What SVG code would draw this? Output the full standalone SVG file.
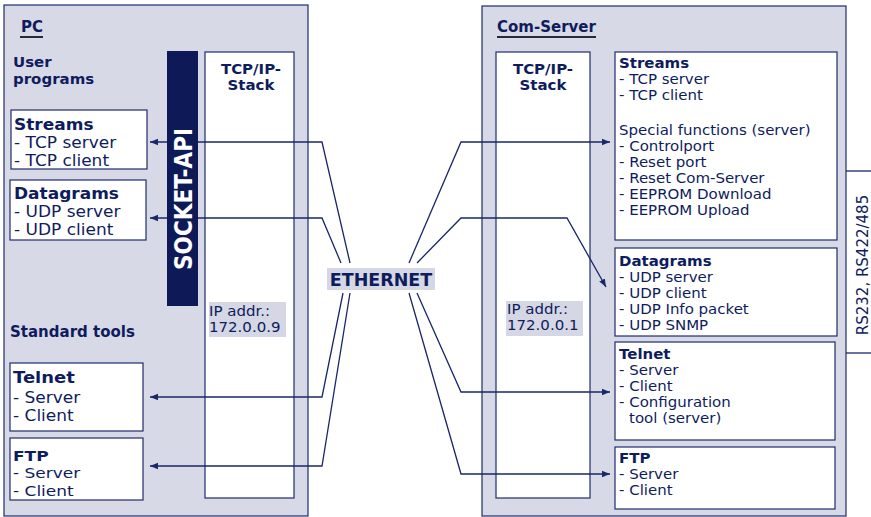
<svg xmlns="http://www.w3.org/2000/svg" width="871" height="517" viewBox="0 0 871 517">
<defs>
<style>
text{font-family:"DejaVu Sans","Liberation Sans",sans-serif;fill:#0e1c5e}
.b{font-weight:bold}
.panel{fill:#d8d9e6;stroke:#1e2b6e;stroke-width:1.2}
.box{fill:#ffffff;stroke:#1e2b6e;stroke-width:1.2}
.ip{fill:#d5d7e4}
.lft{font-size:15.3px}
.rgt{font-size:13.6px}
.conn{fill:none;stroke:#1a2768;stroke-width:1.3}
.ul{stroke:#2a2a33;stroke-width:2}
</style>
<marker id="ah" viewBox="0 0 10 10" refX="10" refY="5" markerWidth="8" markerHeight="8" markerUnits="userSpaceOnUse" orient="auto">
<path d="M0,1 L10,5 L0,9 z" fill="#1a2768"/>
</marker>
</defs>
<rect width="871" height="517" fill="#ffffff"/>

<g id="pc">
<rect class="panel" x="4" y="5" width="304" height="511"/>
<text class="b" x="21" y="32" font-size="15">PC</text>
<line class="ul" x1="20" y1="37" x2="43" y2="37"/>
<text class="b" font-size="14" transform="translate(13,0) scale(1.071,1)"><tspan x="0" y="67.5">User</tspan><tspan x="0" y="84">programs</tspan></text>
<text class="b" x="10" y="337" font-size="15">Standard tools</text>
</g>

<g id="pc-stack">
<rect class="box" x="205" y="52" width="89" height="446"/>
<text class="b" font-size="13.6" text-anchor="middle" transform="translate(251,0) scale(1.103,1)"><tspan x="0" y="74.5">TCP/IP-</tspan><tspan x="0" y="90.5">Stack</tspan></text>
<rect class="ip" x="209" y="302" width="77" height="35"/>
<text font-size="13.6" transform="translate(209,0) scale(1.103,1)"><tspan x="0" y="316.5">IP addr.:</tspan><tspan x="0" y="332.5">172.0.0.9</tspan></text>
</g>

<g id="pc-streams">
<rect class="box" x="11" y="110" width="136" height="59"/>
<text class="lft" transform="translate(14,0) scale(1.111,1)"><tspan class="b" x="0" y="130">Streams</tspan><tspan x="0" y="148">- TCP server</tspan><tspan x="0" y="166">- TCP client</tspan></text>
</g>

<g id="pc-datagrams">
<rect class="box" x="10" y="180" width="136" height="60"/>
<text class="lft" transform="translate(14,0) scale(1.111,1)"><tspan class="b" x="0" y="199">Datagrams</tspan><tspan x="0" y="217">- UDP server</tspan><tspan x="0" y="235">- UDP client</tspan></text>
</g>

<g id="pc-telnet">
<rect class="box" x="10" y="363" width="133" height="68"/>
<text class="lft" transform="translate(13,0) scale(1.111,1)"><tspan class="b" x="0" y="383" font-size="16.2">Telnet</tspan><tspan x="0" y="403">- Server</tspan><tspan x="0" y="421">- Client</tspan></text>
</g>

<g id="pc-ftp">
<rect class="box" x="10" y="438" width="133" height="62"/>
<text font-size="14.9" transform="translate(13,0) scale(1.141,1)"><tspan class="b" x="0" y="461">FTP</tspan><tspan x="0" y="478.5">- Server</tspan><tspan x="0" y="496">- Client</tspan></text>
</g>

<g id="comserver">
<rect class="panel" x="482" y="6" width="364" height="510"/>
<text class="b" x="497" y="32" font-size="15">Com-Server</text>
<line class="ul" x1="497" y1="37" x2="596" y2="37"/>
</g>

<g id="cs-stack">
<rect class="box" x="496" y="52" width="94" height="446"/>
<text class="b" font-size="13.6" text-anchor="middle" transform="translate(543,0) scale(1.103,1)"><tspan x="0" y="74.5">TCP/IP-</tspan><tspan x="0" y="90.5">Stack</tspan></text>
<rect class="ip" x="506" y="301" width="77" height="35"/>
<text font-size="13.6" transform="translate(507,0) scale(1.103,1)"><tspan x="0" y="314">IP addr.:</tspan><tspan x="0" y="330">172.0.0.1</tspan></text>
</g>

<g id="cs-streams">
<rect class="box" x="615" y="52" width="222" height="188"/>
<text class="rgt" transform="translate(619,0) scale(1.103,1)"><tspan class="b" x="0" y="68">Streams</tspan><tspan x="0" y="84">- TCP server</tspan><tspan x="0" y="100">- TCP client</tspan><tspan x="0" y="135">Special functions (server)</tspan><tspan x="0" y="151">- Controlport</tspan><tspan x="0" y="167">- Reset port</tspan><tspan x="0" y="183">- Reset Com-Server</tspan><tspan x="0" y="199">- EEPROM Download</tspan><tspan x="0" y="215">- EEPROM Upload</tspan></text>
</g>

<g id="cs-datagrams">
<rect class="box" x="615" y="248" width="222" height="88"/>
<text class="rgt" transform="translate(619,0) scale(1.103,1)"><tspan class="b" x="0" y="266">Datagrams</tspan><tspan x="0" y="282">- UDP server</tspan><tspan x="0" y="298">- UDP client</tspan><tspan x="0" y="314">- UDP Info packet</tspan><tspan x="0" y="330">- UDP SNMP</tspan></text>
</g>

<g id="cs-telnet">
<rect class="box" x="615" y="342" width="220" height="98"/>
<text class="rgt" transform="translate(619,0) scale(1.103,1)"><tspan class="b" x="0" y="359">Telnet</tspan><tspan x="0" y="375">- Server</tspan><tspan x="0" y="391">- Client</tspan><tspan x="0" y="407">- Configuration</tspan><tspan x="9.1" y="423">tool (server)</tspan></text>
</g>

<g id="cs-ftp">
<rect class="box" x="615" y="447" width="220" height="62"/>
<text class="rgt" transform="translate(619,0) scale(1.103,1)"><tspan class="b" x="0" y="463">FTP</tspan><tspan x="0" y="479">- Server</tspan><tspan x="0" y="495">- Client</tspan></text>
</g>

<g id="connectors">
<polyline class="conn" points="350,263 322,142 150,142" marker-end="url(#ah)"/>
<polyline class="conn" points="341,263 322,218 150,218" marker-end="url(#ah)"/>
<polyline class="conn" points="343,293 322,397 150,397" marker-end="url(#ah)"/>
<polyline class="conn" points="350,293 322,466 150,466" marker-end="url(#ah)"/>
<polyline class="conn" points="409,263 461,142 610,142" marker-end="url(#ah)"/>
<polyline class="conn" points="417,263 461,218 567,218 606,287" marker-end="url(#ah)"/>
<polyline class="conn" points="417,293 461,392 610,392" marker-end="url(#ah)"/>
<polyline class="conn" points="409,293 461,474 610,474" marker-end="url(#ah)"/>
</g>

<g id="socket-api">
<rect x="167" y="51" width="31" height="255" fill="#0d1a57"/>
<text transform="translate(192,199) rotate(-90)" text-anchor="middle" font-weight="bold" font-size="24" style="fill:#ffffff;font-family:'DejaVu Sans Condensed','DejaVu Sans',sans-serif">SOCKET-API</text>
</g>

<g id="ethernet">
<rect class="ip" x="327" y="268" width="108" height="22"/>
<text class="b" x="381" y="286" font-size="17.5" text-anchor="middle">ETHERNET</text>
</g>

<g id="serial">
<polyline class="conn" points="846,171 871,171"/>
<polyline class="conn" points="846,353 871,353"/>
<text transform="translate(868,265) rotate(-90)" text-anchor="middle" font-size="15">RS232, RS422/485</text>
</g>
</svg>
